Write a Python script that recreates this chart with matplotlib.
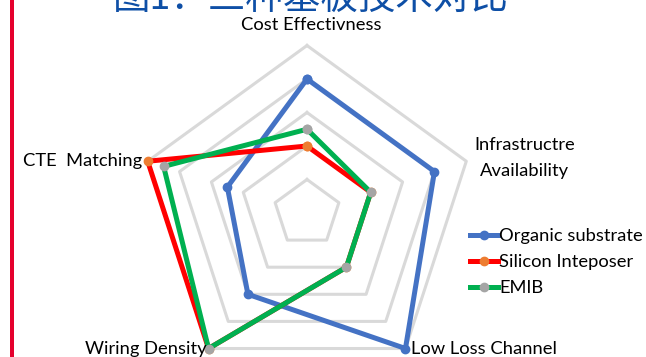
import numpy as np
import matplotlib.pyplot as plt
from matplotlib.patches import Rectangle

plt.rcParams['font.family'] = ['Lato', 'DejaVu Sans']

# Data
categories = ['Cost Effectivness', 'Infrastructre\nAvailability', 'Low Loss Channel',
              'Wiring Density', 'CTE  Matching']
organic = [4, 4, 5, 3, 2.5]
silicon = [2, 2, 2, 5, 5]
emib = [2.5, 2, 2, 5, 4.5]
rings = [1, 2, 3, 4, 5]
series_names = ['Organic substrate', 'Silicon Inteposer', 'EMIB']

W, H = 646, 357
fig = plt.figure(figsize=(W / 100, H / 100), dpi=100)


def px(x, y):
    return x / W, 1 - y / H


# red bar on the left edge
fig.add_artist(Rectangle((10 / W, 0), 4 / W, 1, transform=fig.transFigure,
                         color='#e5002d', lw=0))

fig.text(*px(113, 9), '图1：三种基板技术对比', ha='left', va='baseline',
         fontsize=27, color='#0e4fa6',
         family=['Noto Sans CJK SC', 'DejaVu Sans'])

# radar axes: centre (307, 213) px, radius 167.5 px
cx, cy, R = 307, 213, 167.5
ax = fig.add_axes([(cx - R) / W, (H - cy - R) / H, 2 * R / W, 2 * R / H],
                  projection='polar')
ax.set_theta_offset(np.pi / 2)
ax.set_theta_direction(-1)
ax.set_ylim(0, 5)
ax.grid(False)
ax.set_xticks([])
ax.set_yticks([])
ax.spines['polar'].set_visible(False)
ax.patch.set_visible(False)

angles = np.linspace(0, 2 * np.pi, len(categories), endpoint=False)
ang = np.concatenate([angles, angles[:1]])

for r in rings:
    ax.plot(ang, [r] * len(ang), color='#d9d9d9', lw=2.2, zorder=1, clip_on=False)

styles = [('#4472c4', '#4472c4'), ('#ff0000', '#ed7d31'), ('#00b050', '#a5a5a5')]
for vals, name, (lc, mc) in zip([organic, silicon, emib], series_names, styles):
    v = list(vals) + [vals[0]]
    ax.plot(ang, v, color=lc, lw=3.6, marker='o', markersize=6,
            markerfacecolor=mc, markeredgecolor=mc, label=name, clip_on=False, zorder=3)

fs = 13.2
fig.text(*px(311, 30), categories[0], ha='center', va='baseline', fontsize=fs)
fig.text(*px(525, 137), categories[1], ha='center', va='top', fontsize=fs,
         multialignment='center', linespacing=1.75)
fig.text(*px(411, 354), categories[2], ha='left', va='baseline', fontsize=fs)
fig.text(*px(207, 354), categories[3], ha='right', va='baseline', fontsize=fs)
fig.text(*px(142, 166), categories[4], ha='right', va='baseline', fontsize=fs)

fig.legend(loc='center left', bbox_to_anchor=px(470, 262), frameon=False,
           fontsize=fs, borderpad=0, borderaxespad=0, handlelength=1.5,
           handletextpad=0.1, labelspacing=0.55)

fig.savefig('out.png', dpi=100)
